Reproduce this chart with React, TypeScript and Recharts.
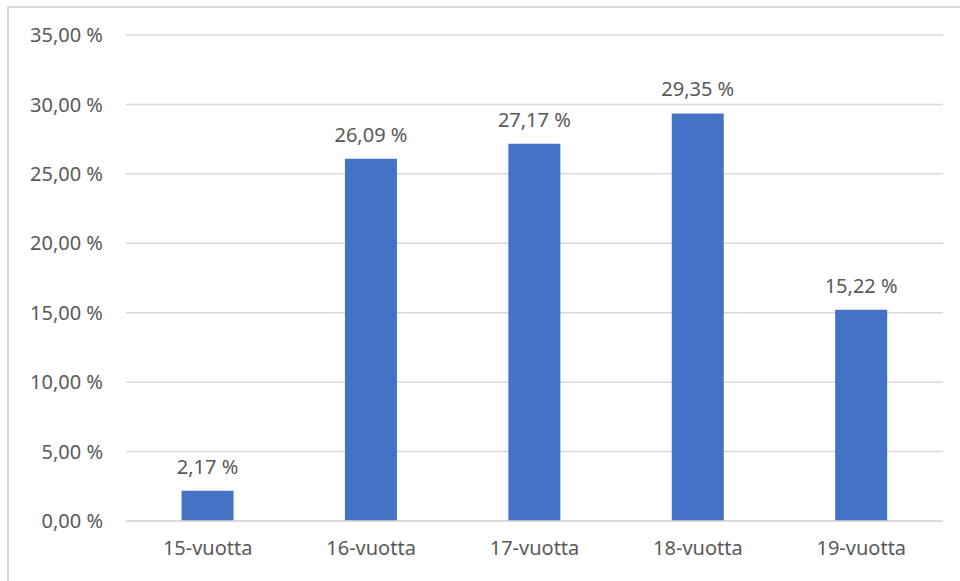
import React from 'react';
import { BarChart, Bar, XAxis, YAxis, CartesianGrid, LabelList } from 'recharts';

const categories = ['15-vuotta', '16-vuotta', '17-vuotta', '18-vuotta', '19-vuotta'];
const values = [2.17, 26.09, 27.17, 29.35, 15.22];
const yTicks = [0, 5, 10, 15, 20, 25, 30, 35];

const data = categories.map((name, i) => ({ name, value: values[i] }));
const fmt = (v: number) => v.toFixed(2).replace('.', ',') + ' %';
const FONT = 'Noto Sans';
const TEXT = '#595959';
const FS = 20;

const renderLabel = (props: any) => {
  const { x, y, width, value } = props;
  return (
    <text
      x={Number(x) + Number(width) / 2}
      y={Number(y) - 17}
      textAnchor="middle"
      fill={TEXT}
      fontFamily={FONT}
      fontSize={FS}
    >
      {fmt(Number(value))}
    </text>
  );
};

export default function App() {
  return (
    <div style={{ position: 'absolute', left: 0, top: 0, width: 960, height: 581, background: '#fff', overflow: 'hidden' }}>
      <div style={{ position: 'absolute', left: 7, top: 6, width: 1000, height: 1000, border: '2px solid #d9d9d9', boxSizing: 'border-box' }} />
      <BarChart
        width={960}
        height={581}
        data={data}
        margin={{ top: 35, right: 17, bottom: 30, left: 0 }}
        barCategoryGap="34%"
        style={{ position: 'absolute', left: 0, top: 0 }}
      >
        <CartesianGrid vertical={false} stroke="#d9d9d9" strokeWidth={1.5} />
        <XAxis
          dataKey="name"
          axisLine={{ stroke: '#d9d9d9', strokeWidth: 1.5 }}
          tickLine={false}
          tickMargin={14}
          tick={{ fill: TEXT, fontFamily: FONT, fontSize: FS }}
        />
        <YAxis
          width={126}
          domain={[0, 35]}
          ticks={yTicks}
          axisLine={false}
          tickLine={false}
          tickMargin={17}
          tickFormatter={fmt}
          tick={{ fill: TEXT, fontFamily: FONT, fontSize: FS }}
        />
        <Bar dataKey="value" fill="#4472C4" isAnimationActive={false}>
          <LabelList dataKey="value" content={renderLabel} />
        </Bar>
      </BarChart>
    </div>
  );
}
